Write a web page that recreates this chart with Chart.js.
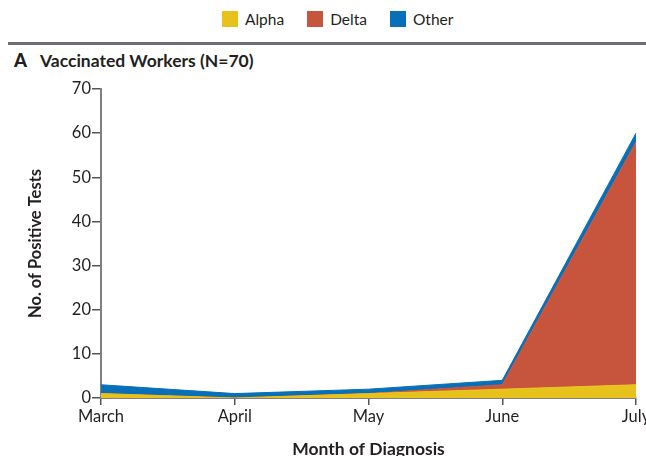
<!DOCTYPE html>
<html>
<head>
<meta charset="utf-8">
<script src="https://cdn.jsdelivr.net/npm/chart.js@4/dist/chart.umd.min.js"></script>
<style>
    html, body { margin: 0; padding: 0; background: #fff; }
    body { width: 646px; height: 456px; position: relative; overflow: hidden; font-family: Lato, 'Open Sans', sans-serif; color: #231f20; }
    #legenda { position: absolute; top: 10px; left: 222px; display: flex; align-items: center; font-size: 15.5px; }
    #legenda span.item { display: flex; align-items: center; margin-right: 23px; }
    #legenda i { display: inline-block; width: 16px; height: 16px; margin-right: 7px; }
    #regua { position: absolute; top: 42px; left: 8px; right: 0; height: 3px; background: #6d6e71; }
    #painel { position: absolute; top: 49px; left: 14px; font-weight: bold; font-size: 17.5px; white-space: nowrap; }
    #painel b { font-size: 18.5px; margin-right: 13px; }
    #wrap { position: absolute; top: 70px; left: 0; width: 680px; height: 386px; }
</style>
</head>
<body>
<div id="legenda"></div>
<div id="regua"></div>
<div id="painel"><b>A</b>Vaccinated Workers (N=70)</div>
<div id="wrap"><canvas id="grafico"></canvas></div>
<script>
const meses = ['March', 'April', 'May', 'June', 'July'];
const alpha = [1, 0, 1, 2, 3];
const delta = [0, 0, 0, 1, 55];
const outras = [2, 1, 1, 1, 2];
const ticksY = [0, 10, 20, 30, 40, 50, 60, 70];

const cores = {
    alpha: 'rgb(232, 194, 28)',
    delta: 'rgb(199, 85, 61)',
    outras: 'rgb(8, 112, 184)'
};

const series = [
    { label: 'Alpha', data: alpha, cor: cores.alpha, fill: 'origin' },
    { label: 'Delta', data: delta, cor: cores.delta, fill: '-1' },
    { label: 'Other', data: outras, cor: cores.outras, fill: '-1' }
];

// legenda em html, fora do canvas
const legenda = document.querySelector('#legenda');
series.forEach((s) => {
    const item = document.createElement('span');
    item.className = 'item';
    item.innerHTML = `<i style="background:${s.cor}"></i>${s.label}`;
    legenda.appendChild(item);
});

const fonte = "Lato, 'Open Sans', sans-serif";
const cinzaEixo = '#808080';
const cinzaTick = '#555';

new Chart(document.querySelector('#grafico'), {
    type: 'line',
    data: {
        labels: meses,
        datasets: series.map((s) => ({
            label: s.label,
            data: s.data,
            backgroundColor: s.cor,
            borderColor: s.cor,
            borderWidth: 1,
            pointRadius: 0,
            tension: 0,
            fill: s.fill
        }))
    },
    options: {
        responsive: true,
        maintainAspectRatio: false,
        animation: false,
        layout: { padding: { top: 19, right: 44, left: 0, bottom: 0 } },
        plugins: {
            legend: { display: false },
            tooltip: { enabled: false }
        },
        scales: {
            x: {
                offset: false,
                afterFit: (scale) => { scale.height = 58; },
                border: { color: cinzaEixo, width: 2 },
                grid: { drawOnChartArea: false, drawTicks: true, tickLength: 7, color: cinzaTick, lineWidth: 1.5 },
                ticks: { color: '#231f20', padding: 2, maxRotation: 0, font: { family: fonte, size: 16.5 } },
                title: {
                    display: true,
                    text: 'Month of Diagnosis',
                    color: '#231f20',
                    padding: { top: 0, bottom: -4 },
                    font: { family: fonte, size: 17.5, weight: 'bold' }
                }
            },
            y: {
                stacked: true,
                min: 0,
                max: 70,
                afterFit: (scale) => { scale.width = 101; },
                afterBuildTicks: (scale) => { scale.ticks = ticksY.map((v) => ({ value: v })); },
                border: { color: cinzaEixo, width: 2 },
                grid: { drawOnChartArea: false, drawTicks: true, tickLength: 9, color: cinzaTick, lineWidth: 1.5 },
                ticks: { color: '#231f20', padding: 1, font: { family: fonte, size: 16.5 } },
                title: {
                    display: true,
                    text: 'No. of Positive Tests',
                    color: '#231f20',
                    padding: { top: 26, bottom: 0 },
                    font: { family: fonte, size: 16.5, weight: 'bold' }
                }
            }
        }
    }
});
</script>
</body>
</html>
